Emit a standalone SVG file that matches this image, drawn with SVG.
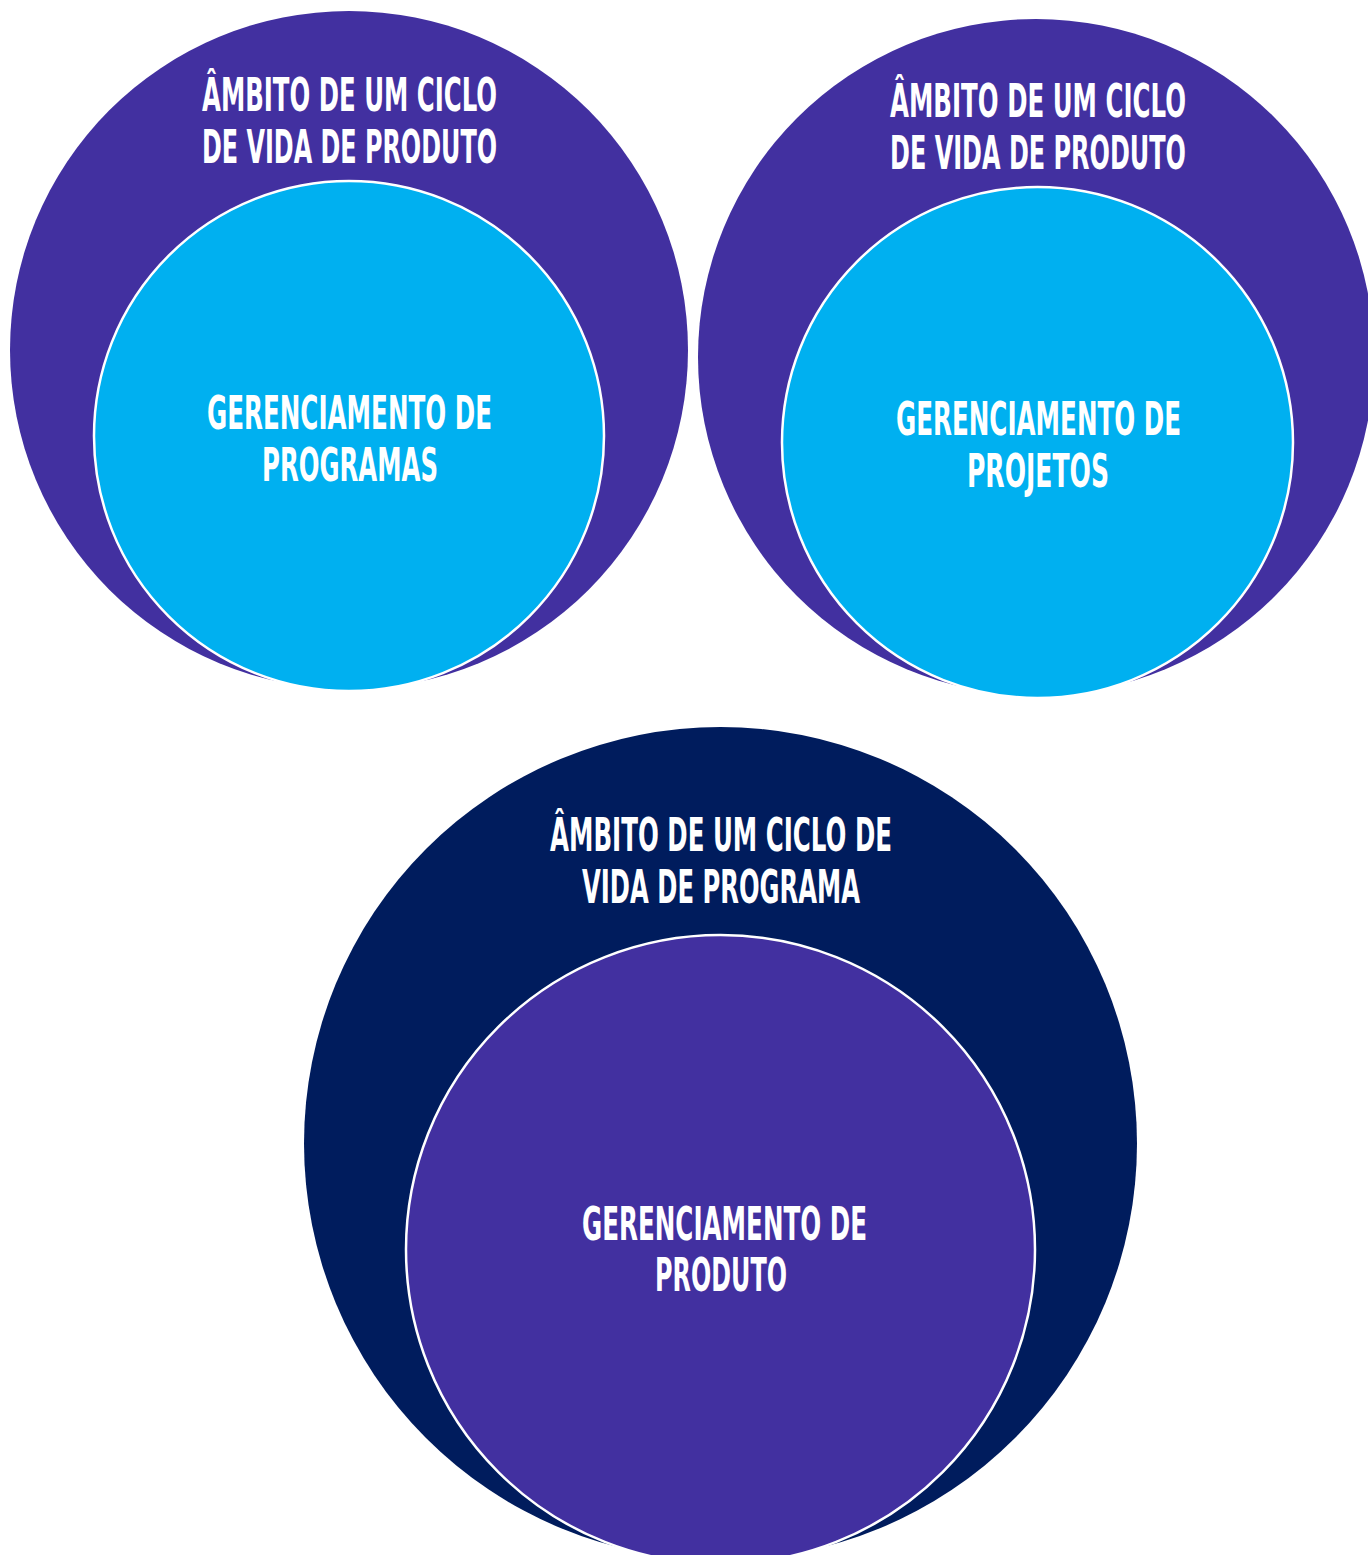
<svg xmlns="http://www.w3.org/2000/svg" width="1368" height="1555" viewBox="0 0 1368 1555">
<style>
.purple{fill:#4230A0}
.blue{fill:#00B0F0;stroke:#ffffff;stroke-width:2.5}
.navy{fill:#001C5D}
.inpurple{fill:#4230A0;stroke:#ffffff;stroke-width:2.5}
.t{font-family:"DejaVu Sans Condensed","Liberation Sans Narrow","DejaVu Sans",sans-serif;font-weight:bold;font-size:47px;fill:#ffffff;text-anchor:middle}
</style>
<rect width="1368" height="1555" fill="#ffffff"/>
<g id="node-product-lifecycle-1">
<circle class="purple" cx="349" cy="350" r="339"/>
<text class="t" transform="translate(349.5 111) scale(0.6 1)" x="0" y="0" textLength="491.7" lengthAdjust="spacingAndGlyphs">ÂMBITO DE UM CICLO</text>
<text class="t" transform="translate(349.5 163) scale(0.6 1)" x="0" y="0" textLength="491.7" lengthAdjust="spacingAndGlyphs">DE VIDA DE PRODUTO</text>
</g>
<g id="node-program-management">
<circle class="blue" cx="349" cy="436" r="255"/>
<text class="t" transform="translate(349.5 429) scale(0.6 1)" x="0" y="0" textLength="475" lengthAdjust="spacingAndGlyphs">GERENCIAMENTO DE</text>
<text class="t" transform="translate(350 481) scale(0.6 1)" x="0" y="0" textLength="293.3" lengthAdjust="spacingAndGlyphs">PROGRAMAS</text>
</g>
<g id="node-product-lifecycle-2">
<circle class="purple" cx="1036" cy="357" r="338"/>
<text class="t" transform="translate(1038 117) scale(0.6 1)" x="0" y="0" textLength="493.3" lengthAdjust="spacingAndGlyphs">ÂMBITO DE UM CICLO</text>
<text class="t" transform="translate(1038 169) scale(0.6 1)" x="0" y="0" textLength="493.3" lengthAdjust="spacingAndGlyphs">DE VIDA DE PRODUTO</text>
</g>
<g id="node-project-management">
<circle class="blue" cx="1037.5" cy="442.5" r="255.5"/>
<text class="t" transform="translate(1038.5 435) scale(0.6 1)" x="0" y="0" textLength="475" lengthAdjust="spacingAndGlyphs">GERENCIAMENTO DE</text>
<text class="t" transform="translate(1038 487) scale(0.6 1)" x="0" y="0" textLength="236.7" lengthAdjust="spacingAndGlyphs">PROJETOS</text>
</g>
<g id="node-program-lifecycle">
<circle class="navy" cx="720.5" cy="1143.5" r="416.5"/>
<text class="t" transform="translate(721 851) scale(0.6 1)" x="0" y="0" textLength="570" lengthAdjust="spacingAndGlyphs">ÂMBITO DE UM CICLO DE</text>
<text class="t" transform="translate(721 903) scale(0.6 1)" x="0" y="0" textLength="463.3" lengthAdjust="spacingAndGlyphs">VIDA DE PROGRAMA</text>
</g>
<g id="node-product-management">
<circle class="inpurple" cx="720.5" cy="1249.5" r="314.5"/>
<text class="t" transform="translate(724.5 1240) scale(0.6 1)" x="0" y="0" textLength="475" lengthAdjust="spacingAndGlyphs">GERENCIAMENTO DE</text>
<text class="t" transform="translate(721 1291) scale(0.6 1)" x="0" y="0" textLength="220" lengthAdjust="spacingAndGlyphs">PRODUTO</text>
</g>
<g id="connectors"></g>
</svg>
